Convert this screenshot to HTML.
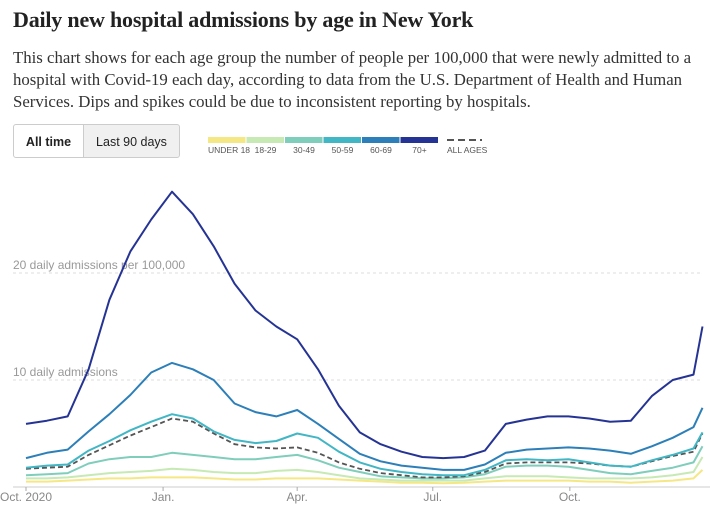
<!DOCTYPE html>
<html><head><meta charset="utf-8"><style>
body{margin:0;width:716px;height:518px;background:#fff;overflow:hidden;font-family:"Liberation Serif",serif;position:relative}
h1{position:absolute;left:13px;top:7px;margin:0;font-size:22px;font-weight:bold;color:#222;letter-spacing:-0.2px}
p{position:absolute;left:13px;top:47px;margin:0;width:703px;font-size:16.8px;line-height:22px;color:#333}
.btn{position:absolute;top:124px;height:34px;font-family:"Liberation Sans",sans-serif;font-size:12.5px;line-height:34px;text-align:center;border:1px solid #ccc;box-sizing:border-box;color:#222}
svg{position:absolute;left:0;top:0}
</style></head><body>
<h1>Daily new hospital admissions by age in New York</h1>
<p>This chart shows for each age group the number of people per 100,000 that were newly admitted to a hospital with Covid-19 each day, according to data from the U.S. Department of Health and Human Services. Dips and spikes could be due to inconsistent reporting by hospitals.</p>
<div class="btn" style="left:13px;width:71px;background:#fff;font-weight:bold;border-radius:3px 0 0 3px">All time</div>
<div class="btn" style="left:83px;width:97px;background:#f0f0f0;border-radius:0 3px 3px 0">Last 90 days</div>
<svg id="chart" width="716" height="518"></svg>
<script>
const days=[0,14,28,42,56,70,84,98,112,126,140,154,168,182,196,210,224,238,252,266,280,294,308,322,336,350,364,378,392,406,420,434,448,454];
const seriesNames=["under18","age18to29","age30to49","age50to59","age60to69","age70plus","allAges"];
const under18=[0.5,0.5,0.6,0.7,0.8,0.8,0.9,0.9,0.9,0.8,0.7,0.7,0.8,0.8,0.8,0.7,0.6,0.5,0.4,0.4,0.35,0.4,0.5,0.6,0.6,0.6,0.6,0.5,0.5,0.4,0.5,0.6,0.8,1.6];
const age18to29=[0.8,0.8,0.9,1.1,1.3,1.4,1.5,1.7,1.6,1.4,1.3,1.3,1.5,1.6,1.4,1.1,0.8,0.7,0.6,0.6,0.6,0.6,0.8,1.0,1.0,1.0,0.9,0.8,0.8,0.8,0.9,1.1,1.4,2.8];
const age30to49=[1.1,1.2,1.3,2.2,2.6,2.8,2.8,3.2,3.0,2.8,2.6,2.6,2.8,3.0,2.5,1.8,1.4,1.0,0.9,0.8,0.8,0.9,1.2,1.9,2.0,2.0,1.9,1.6,1.3,1.2,1.5,1.8,2.3,3.8];
const age50to59=[1.8,2.0,2.1,3.4,4.3,5.3,6.1,6.8,6.4,5.2,4.4,4.1,4.3,5.0,4.6,3.3,2.3,1.7,1.4,1.2,1.1,1.1,1.6,2.5,2.6,2.5,2.6,2.3,2.0,1.9,2.5,3.0,3.6,5.1];
const age60to69=[2.7,3.2,3.5,5.2,6.8,8.6,10.7,11.6,11.0,10.0,7.8,7.0,6.6,7.2,5.9,4.5,3.1,2.4,2.0,1.8,1.6,1.6,2.1,3.2,3.5,3.6,3.7,3.6,3.4,3.1,3.8,4.6,5.6,7.4];
const age70plus=[5.9,6.2,6.6,11,17.5,22,25,27.6,25.5,22.5,19,16.5,15,13.8,11,7.6,5.1,4.0,3.3,2.8,2.7,2.8,3.4,5.9,6.3,6.6,6.6,6.4,6.1,6.2,8.5,10.0,10.5,15.0];
const allAges=[1.7,1.8,1.9,3.0,3.9,4.8,5.6,6.4,6.1,5.0,4.0,3.7,3.6,3.7,3.2,2.3,1.7,1.3,1.1,0.9,0.9,1.0,1.4,2.2,2.3,2.3,2.3,2.2,2.0,1.9,2.4,2.9,3.3,5.0];
const legendLabels=["UNDER 18","18-29","30-49","50-59","60-69","70+","ALL AGES"];
const tickDays=[0,92,182,273,365];
const tickLabels=["Oct. 2020","Jan.","Apr.","Jul.","Oct."];
const gridValues=[10,20];
const gridLabels=["10 daily admissions","20 daily admissions per 100,000"];

const colors=["#f5e784","#c7e9b4","#7fcdbb","#41b6c4","#2c7fb8","#253494","#555"];
const NS="http://www.w3.org/2000/svg";
const svg=document.getElementById('chart');
const x=d=>26+d*1.49;
const y=v=>487-v*10.7;
function mk(t,a){const e=document.createElementNS(NS,t);for(const k in a)e.setAttribute(k,a[k]);svg.appendChild(e);return e;}
gridValues.forEach((g,i)=>{
  const l=mk('line',{x1:13,x2:700,y1:y(g),y2:y(g),stroke:'#ddd','stroke-dasharray':'3,3'});
  
  
  const t=mk('text',{x:13,y:y(g)-4,'font-size':12,fill:'#999','font-family':'Liberation Sans, sans-serif'});
  t.textContent=gridLabels[i];
  
  
});
const ax=mk('line',{x1:13,x2:710,y1:487,y2:487,stroke:'#ccc'});


tickDays.forEach((d,i)=>{
  const tk=mk('line',{x1:x(d),x2:x(d),y1:487,y2:491,stroke:'#aaa'});
  
  
  const t=mk('text',{x:x(d),y:501,'font-size':12,fill:'#888','text-anchor':'middle','font-family':'Liberation Sans, sans-serif'});
  t.textContent=tickLabels[i];
  
  
});
const all=[under18,age18to29,age30to49,age50to59,age60to69,age70plus,allAges];
const order=[0,1,2,6,3,4,5];
order.forEach(si=>{
  const vals=all[si];
  const dpath=vals.map((v,i)=>(i?'L':'M')+x(days[i]).toFixed(1)+','+y(v).toFixed(1)).join(' ');
  const p=mk('path',{d:dpath,fill:'none',stroke:colors[si],'stroke-width':si==6?1.8:2,'stroke-linejoin':'round'});
  if(si==6)p.setAttribute('stroke-dasharray','5,3');
  
  
});
legendLabels.forEach((lab,i)=>{
  const lx=208+i*38.5;
  let s;
  if(i<6){s=mk('rect',{x:lx,y:137,width:37.5,height:6,fill:colors[i]});}
  else{s=mk('line',{x1:447,x2:482,y1:140,y2:140,stroke:'#555','stroke-width':2,'stroke-dasharray':'7,4'});}
  
  
  const t=mk('text',{x:i==6?447:(i==0?lx:lx+19),y:153,'font-size':8.5,fill:'#555','text-anchor':i==0||i==6?'start':'middle','font-family':'Liberation Sans, sans-serif'});
  t.textContent=lab;
  
  
});
</script>
</body></html>
